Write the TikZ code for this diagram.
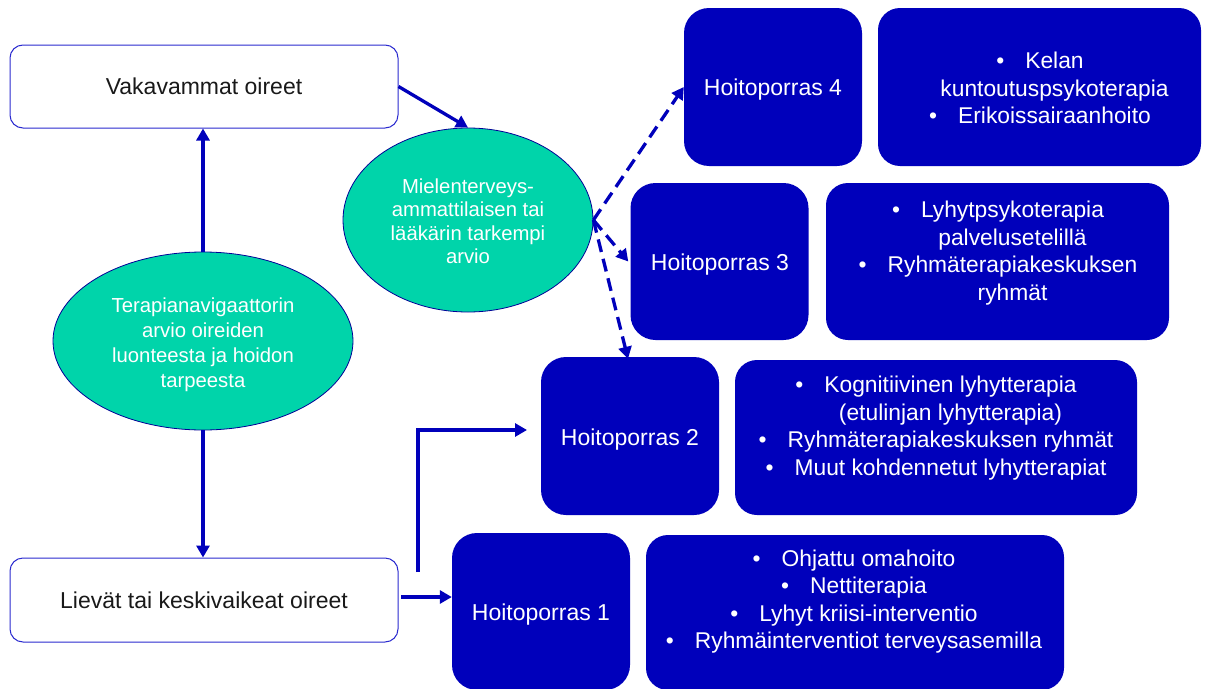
\documentclass[tikz,border=0pt]{standalone}
\usepackage{fontspec}
\setmainfont{Liberation Sans}
\usetikzlibrary{arrows.meta,shapes.geometric,calc}
\definecolor{navy}{HTML}{0000BB}
\definecolor{teal}{HTML}{00D4AA}
\definecolor{edgeblue}{HTML}{2A2ACF}
\newcommand\blt{\textbullet\hspace{21pt}}
\newcommand\hng{\phantom{\textbullet\hspace{21pt}}}
\begin{document}
\begin{tikzpicture}[x=1pt,y=-1pt,
  wbox/.style={draw=edgeblue,line width=1pt,fill=white,rounded corners=13pt,
    text=black!90,font=\fontsize{23}{27.5}\selectfont,inner sep=0pt},
  ell/.style={ellipse,draw=navy!80!black,line width=0.8pt,fill=teal,inner sep=0pt},
  elltext/.style={text=white,align=center,inner sep=0pt},
  hbox/.style={fill=navy,rounded corners=25pt,minimum width=178pt,inner sep=0pt},
  htext/.style={text=white,font=\fontsize{23}{27.5}\selectfont,inner sep=0pt},
  dbox/.style={fill=navy,rounded corners=22pt,inner sep=0pt},
  dtext/.style={text=white,align=center,font=\fontsize{22.8}{27.6}\selectfont,inner sep=0pt},
  arr/.style={draw=navy,line width=3.3pt,-{Triangle[length=12pt,width=13pt]}},
  darr/.style={arr,dash pattern=on 13pt off 7pt}]
\useasboundingbox (0,0) rectangle (1207,688);

% left column
\node[wbox,minimum width=388pt,minimum height=83pt] (vak) at (204,86.5) {Vakavammat oireet};
\node[wbox,minimum width=388pt,minimum height=84pt] (lie) at (204,600) {Lievät tai keskivaikeat oireet};
\node[ell,minimum width=300pt,minimum height=178pt] (nav) at (203,341) {};
\node[elltext,font=\fontsize{20.3}{25}\selectfont] (navt) at (203,345)
  {Terapianavigaattorin\\arvio oireiden\\luonteesta ja hoidon\\tarpeesta};
\node[ell,minimum width=250pt,minimum height=184pt] (mid) at (468,220) {};
\node[elltext,font=\fontsize{20.3}{23.5}\selectfont] (midt) at (468,221)
  {Mielenterveys-\\ammattilaisen tai\\lääkärin tarkempi\\arvio};

% care steps
\node[hbox,minimum height=158pt] (h4) at (773,87) {};
\node[hbox,minimum height=157pt] (h3) at (719.5,261.5) {};
\node[hbox,minimum height=158pt] (h2) at (630,436) {};
\node[hbox,minimum height=157pt] (h1) at (541,611.5) {};
\node[htext] (h4t) at (773,90) {Hoitoporras 4};
\node[htext] (h3t) at (720,265) {Hoitoporras 3};
\node[htext] (h2t) at (630,439.5) {Hoitoporras 2};
\node[htext] (h1t) at (541,614.5) {Hoitoporras 1};

% descriptions
\node[dbox,minimum width=323pt,minimum height=158pt] (d4) at (1039.5,87) {};
\node[dbox,minimum width=343pt,minimum height=157pt] (d3) at (997.5,261.5) {};
\node[dbox,minimum width=402pt,minimum height=155pt] (d2) at (936,437.5) {};
\node[dbox,minimum width=418pt,minimum height=155pt] (d1) at (855,612.5) {};

\node[dtext] (t4) at (1040,88) {\blt Kelan\\\hng kuntoutuspsykoterapia\\\blt Erikoissairaanhoito};
\node[dtext] (t3) at (998,253) {\blt Lyhytpsykoterapia\\\hng palvelusetelillä\\\blt Ryhmäterapiakeskuksen\\\hng ryhmät};
\node[dtext] (t2) at (936,428) {\blt Kognitiivinen lyhytterapia\\\hng (etulinjan lyhytterapia)\\\blt Ryhmäterapiakeskuksen ryhmät\\\blt Muut kohdennetut lyhytterapiat};
\node[dtext] (t1) at (854,601.5) {\blt Ohjattu omahoito\\\blt Nettiterapia\\\blt Lyhyt kriisi-interventio\\\blt Ryhmäinterventiot terveysasemilla};

% connectors
\draw[arr] (nav.north) -- (nav.north |- vak.south);
\draw[arr] (nav.south) -- (nav.south |- lie.north);
\draw[arr] (vak.east) -- (mid.north);
\coordinate (a1) at (401,597);
\draw[arr] (a1) -- (a1 -| h1.west);
\coordinate (e0) at (418,572);
\coordinate (e1) at (527,430);
\draw[arr] (e0) |- (e1);
\draw[darr] (mid.east) -- (h4.west);
\draw[darr] (mid.east) -- ([xshift=-2pt]h3.west);
\draw[darr] (mid.east) -- ([xshift=-2pt,yshift=-2pt]h2.north);
\end{tikzpicture}
\end{document}
